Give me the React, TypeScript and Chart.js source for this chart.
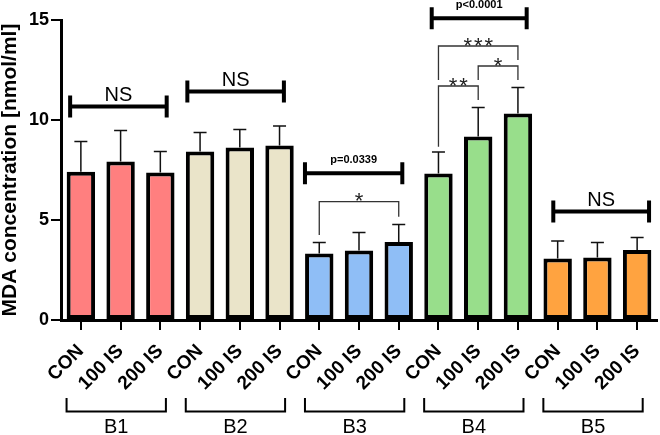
import React, { useEffect, useRef } from "react";
import { Chart, registerables } from "chart.js";

Chart.register(...registerables);

// ---------- data ----------
const categories = [
  "CON", "100 IS", "200 IS",
  "CON", "100 IS", "200 IS",
  "CON", "100 IS", "200 IS",
  "CON", "100 IS", "200 IS",
  "CON", "100 IS", "200 IS",
];
const groupLabels = ["B1", "B2", "B3", "B4", "B5"];
const groupColors = ["#FF7F7F", "#EAE4C9", "#8FBEF6", "#98DE8B", "#FFA340"];
const meanValues = [7.41, 7.92, 7.37, 8.42, 8.63, 8.73, 3.33, 3.47, 3.9, 7.33, 9.17, 10.33, 3.08, 3.13, 3.5];
const sdValues = [1.51, 1.55, 1.05, 0.96, 0.9, 0.97, 0.55, 0.91, 0.87, 1.07, 1.45, 1.3, 0.87, 0.74, 0.63];
const yTicks = [0, 5, 10, 15];
const yTitle = "MDA concentration [nmol/ml]";

// thick group-comparison brackets
const groupTestFrom = [-0.27, 2.68, 5.64, 8.83, 11.89];
const groupTestTo = [2.16, 5.11, 8.09, 11.22, 14.3];
const groupTestY = [10.67, 11.42, 7.34, 15.09, 5.42];
const groupTestLabel = ["NS", "NS", "p=0.0339", "p<0.0001", "NS"];

// thin pairwise brackets
const pairFrom = [6, 9, 10, 9];
const pairTo = [8, 11, 11, 10];
const pairLineY = [5.915, 13.7, 12.7, 11.7];
const pairLeftEnd = [4.25, 12.0, 12.0, 8.665];
const pairRightEnd = [5.165, 13.0, 12.0, 11.0];
const pairLabel = ["*", "***", "*", "**"];

const FONT = '"Liberation Sans", Arial, sans-serif';

function barColors(): string[] {
  return categories.map((_, i) => groupColors[Math.floor(i / 3)]);
}

const annotPlugin = {
  id: "annot",
  afterDatasetsDraw(chart: any) {
    const ctx = chart.ctx as CanvasRenderingContext2D;
    const xs = chart.scales.x;
    const ys = chart.scales.y;
    ctx.save();
    ctx.strokeStyle = "#111";
    ctx.lineWidth = 1.5;
    meanValues.forEach((v, i) => {
      const cx = xs.getPixelForValue(i);
      const y0 = ys.getPixelForValue(v);
      const y1 = ys.getPixelForValue(v + sdValues[i]);
      ctx.beginPath();
      ctx.moveTo(cx, y0);
      ctx.lineTo(cx, y1);
      ctx.moveTo(cx - 6.5, y1);
      ctx.lineTo(cx + 6.5, y1);
      ctx.stroke();
    });
    ctx.restore();
  },
  afterDraw(chart: any) {
    const ctx = chart.ctx as CanvasRenderingContext2D;
    const xs = chart.scales.x;
    const ys = chart.scales.y;
    const catW = xs.getPixelForValue(1) - xs.getPixelForValue(0);
    const px = (idx: number) => xs.getPixelForValue(0) + idx * catW;
    const bottom = chart.chartArea.bottom;
    ctx.save();

    // rotated category labels
    ctx.fillStyle = "#000";
    ctx.font = `bold 19px ${FONT}`;
    ctx.textAlign = "right";
    ctx.textBaseline = "middle";
    categories.forEach((c, i) => {
      ctx.save();
      ctx.translate(px(i), bottom + 28);
      ctx.rotate(-Math.PI / 4);
      ctx.fillText(c, 0, 0);
      ctx.restore();
    });

    // group brackets under the axis
    ctx.strokeStyle = "#000";
    ctx.lineWidth = 2;
    ctx.font = `20px ${FONT}`;
    ctx.textAlign = "center";
    ctx.textBaseline = "alphabetic";
    groupLabels.forEach((g, gi) => {
      const x0 = px(gi * 3) - 0.36 * catW;
      const x1 = px(gi * 3 + 2) + 0.14 * catW;
      const yTop = bottom + 78;
      const yBot = bottom + 91.5;
      ctx.beginPath();
      ctx.moveTo(x0, yTop);
      ctx.lineTo(x0, yBot);
      ctx.lineTo(x1, yBot);
      ctx.lineTo(x1, yTop);
      ctx.stroke();
      ctx.fillText(g, (x0 + x1) / 2, bottom + 112.5);
    });

    // thick group-test brackets
    groupTestLabel.forEach((lab, k) => {
      const x0 = px(groupTestFrom[k]);
      const x1 = px(groupTestTo[k]);
      const yy = ys.getPixelForValue(groupTestY[k]);
      ctx.strokeStyle = "#000";
      ctx.lineWidth = 4;
      ctx.beginPath();
      ctx.moveTo(x0, yy);
      ctx.lineTo(x1, yy);
      ctx.moveTo(x0, yy - 11);
      ctx.lineTo(x0, yy + 11);
      ctx.moveTo(x1, yy - 11);
      ctx.lineTo(x1, yy + 11);
      ctx.stroke();
      ctx.fillStyle = "#000";
      ctx.textAlign = "center";
      ctx.textBaseline = "alphabetic";
      if (lab === "NS") {
        ctx.font = `20px ${FONT}`;
        ctx.fillText(lab, (x0 + x1) / 2, yy - 13 + 7.2);
      } else {
        ctx.font = `bold 11px ${FONT}`;
        ctx.fillText(lab, (x0 + x1) / 2, yy - 14 + 4);
      }
    });

    // thin pairwise brackets
    ctx.strokeStyle = "#333";
    ctx.lineWidth = 1.3;
    pairLabel.forEach((lab, k) => {
      const x0 = px(pairFrom[k]);
      const x1 = px(pairTo[k]);
      const yy = ys.getPixelForValue(pairLineY[k]);
      ctx.beginPath();
      ctx.moveTo(x0, ys.getPixelForValue(pairLeftEnd[k]));
      ctx.lineTo(x0, yy);
      ctx.lineTo(x1, yy);
      ctx.lineTo(x1, ys.getPixelForValue(pairRightEnd[k]));
      ctx.stroke();
      ctx.fillStyle = "#222";
      ctx.font = `22px ${FONT}`;
      ctx.textAlign = "center";
      ctx.textBaseline = "alphabetic";
      const n = lab.length;
      const spacing = 10.5;
      const cx = (x0 + x1) / 2;
      for (let s = 0; s < n; s++) {
        const sx = cx + (s - (n - 1) / 2) * spacing;
        ctx.fillText("*", sx, yy - 6 + 12.5);
      }
    });

    // y axis title
    ctx.save();
    ctx.translate(15.5, (chart.chartArea.top + bottom) / 2);
    ctx.rotate(-Math.PI / 2);
    ctx.font = `bold 21px ${FONT}`;
    ctx.fillStyle = "#000";
    ctx.textAlign = "center";
    ctx.textBaseline = "alphabetic";
    ctx.fillText(yTitle, 0, 0);
    ctx.restore();

    ctx.restore();
  },
};

export default function App() {
  const ref = useRef<HTMLCanvasElement | null>(null);
  useEffect(() => {
    if (!ref.current) return;
    const chart = new Chart(ref.current, {
      type: "bar",
      data: {
        labels: categories,
        datasets: [
          {
            data: meanValues,
            backgroundColor: barColors(),
            borderColor: "#000",
            borderWidth: 4,
            borderSkipped: false,
            categoryPercentage: 1,
            barPercentage: 0.715,
          },
        ],
      },
      options: {
        responsive: false,
        animation: false,
        devicePixelRatio: 1,
        layout: { padding: { top: 20, right: 3, left: 0, bottom: 0 } },
        plugins: { legend: { display: false }, tooltip: { enabled: false } },
        scales: {
          x: {
            type: "category",
            offset: true,
            grid: {
              display: true,
              offset: false,
              drawOnChartArea: false,
              drawTicks: true,
              tickLength: 10,
              lineWidth: 2,
              color: "#000",
            },
            border: { display: true, width: 3, color: "#000" },
            ticks: { display: false },
            afterFit: (s: any) => {
              s.height = 115;
            },
          },
          y: {
            min: 0,
            max: 15,
            afterBuildTicks: (s: any) => {
              s.ticks = yTicks.map((v) => ({ value: v }));
            },
            ticks: {
              font: { family: FONT, size: 18, weight: "bold" },
              color: "#000",
              padding: 2,
            },
            grid: {
              drawOnChartArea: false,
              drawTicks: true,
              tickLength: 10,
              lineWidth: 2,
              color: "#000",
            },
            border: { display: true, width: 3, color: "#000" },
            afterFit: (s: any) => {
              s.width = 61;
            },
          },
        },
      },
      plugins: [annotPlugin],
    } as any);
    return () => chart.destroy();
  }, []);
  return (
    <div style={{ position: "fixed", left: 0, top: 0, width: 660, height: 435, background: "#fff" }}>
      <canvas ref={ref} width={660} height={435} style={{ display: "block" }} />
    </div>
  );
}
